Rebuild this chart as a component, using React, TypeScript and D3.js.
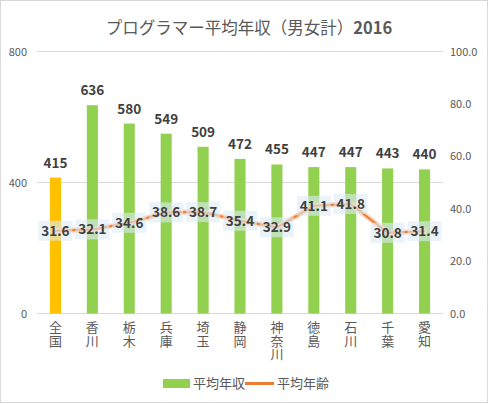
import React from "react";
import * as d3 from "d3";

const categories = ["全国", "香川", "栃木", "兵庫", "埼玉", "静岡", "神奈川", "徳島", "石川", "千葉", "愛知"];
const incomeValues = [415, 636, 580, 549, 509, 472, 455, 447, 447, 443, 440];
const ageValues = [31.6, 32.1, 34.6, 38.6, 38.7, 35.4, 32.9, 41.1, 41.8, 30.8, 31.4];
const leftTicks = [0, 400, 800];
const rightTicks = [0, 20, 40, 60, 80, 100];
const titleMain = "プログラマー平均年収（男女計）";
const titleYear = "2016";
const legendLabels = ["平均年収", "平均年齢"];

const W = 489;
const H = 404;
const FONT = "'Noto Sans CJK JP', 'Noto Sans', sans-serif";
const TEXT = "#595959";
const LABEL = "#404040";

export default function App() {
  const x = d3.scaleBand<string>().domain(categories).range([37, 443]).paddingInner(0.7).paddingOuter(0.35);
  const yL = d3.scaleLinear().domain([0, 800]).range([313.5, 51.5]);
  const yR = d3.scaleLinear().domain([0, 100]).range([313.5, 51.5]);
  const cx = (c: string) => (x(c) as number) + x.bandwidth() / 2;
  const linePts: [number, number][] = categories.map((c, i) => [cx(c), yR(ageValues[i])]);
  const lineGen = d3.line();
  const path = lineGen(linePts) || "";

  return (
    <div style={{ position: "absolute", left: 0, top: 0 }}>
      <svg width={W} height={H} style={{ display: "block", fontFamily: FONT }}>
        <rect x={0.5} y={0.5} width={W - 2} height={H - 2} fill="#fff" stroke="#d9d9d9" />
        <text x={249} y={34} textAnchor="middle" fontSize={16.5} fill={TEXT}>
          {titleMain}
          <tspan fontWeight="bold">{titleYear}</tspan>
        </text>
        {leftTicks.map((t) => (
          <g key={"l" + t}>
            <line x1={37} x2={443} y1={yL(t)} y2={yL(t)} stroke="#d9d9d9" strokeWidth={1} />
            <text x={27} y={yL(t) + 4} textAnchor="end" fontSize={11} fill={TEXT}>{t}</text>
          </g>
        ))}
        {rightTicks.map((t) => (
          <text key={"r" + t} x={450} y={yR(t) + 4} textAnchor="start" fontSize={11} fill={TEXT}>{t.toFixed(1)}</text>
        ))}
        {categories.map((c, i) => (
          <rect key={"b" + c} x={x(c)} y={yL(incomeValues[i])} width={x.bandwidth()} height={yL(0) - yL(incomeValues[i])}
            fill={i === 0 ? "#FFC000" : "#92D050"} />
        ))}
        {categories.map((c, i) => (
          <text key={"bl" + c} x={cx(c)} y={yL(incomeValues[i]) - 10} textAnchor="middle" fontSize={13.5} fontWeight="bold" fill={LABEL}>
            {incomeValues[i]}
          </text>
        ))}
        <path d={path} fill="none" stroke="#f8cbad" strokeWidth={5} strokeLinejoin="round" strokeLinecap="round" opacity={0.9} />
        <path d={path} fill="none" stroke="#ED7D31" strokeWidth={2} strokeLinejoin="round" strokeLinecap="round" />
        {categories.map((c, i) => (
          <g key={"al" + c}>
            <rect x={cx(c) - 17} y={yR(ageValues[i]) - 10} width={34} height={20} fill="#deebf7" opacity={0.6} />
            <text x={cx(c)} y={yR(ageValues[i]) + 5} textAnchor="middle" fontSize={13.5} fontWeight="bold" fill={LABEL}>
              {ageValues[i].toFixed(1)}
            </text>
          </g>
        ))}
        {categories.map((c) => (
          <text key={"c" + c} x={cx(c)} y={321} fontSize={13} fill={TEXT}
            style={{ writingMode: "vertical-rl", textOrientation: "upright", letterSpacing: "0.5px" } as React.CSSProperties}>
            {c}
          </text>
        ))}
        <rect x={163} y={379} width={27} height={9} fill="#92D050" />
        <text x={193} y={388} fontSize={13} fill={TEXT}>{legendLabels[0]}</text>
        <line x1={245} x2={274} y1={383.5} y2={383.5} stroke="#ED7D31" strokeWidth={3} />
        <text x={277} y={388} fontSize={13} fill={TEXT}>{legendLabels[1]}</text>
      </svg>
    </div>
  );
}
